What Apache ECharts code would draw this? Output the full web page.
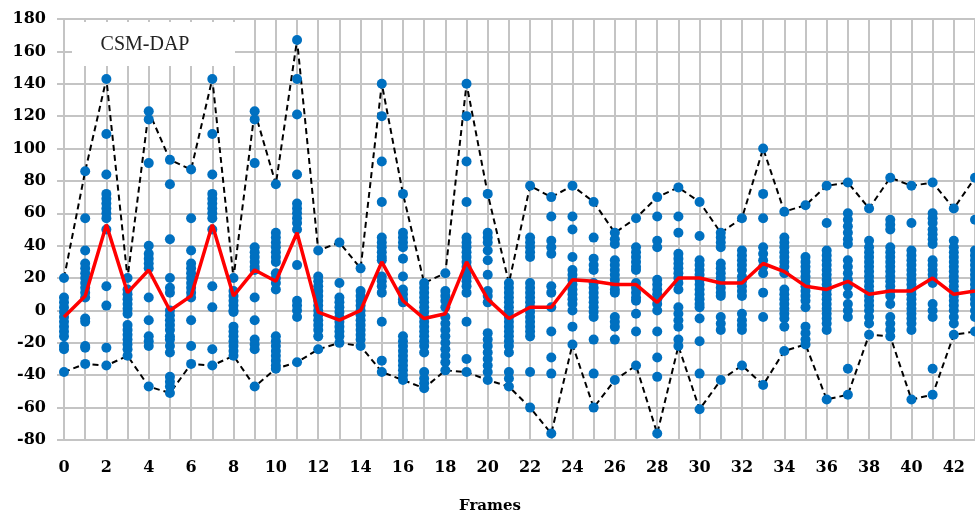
<!DOCTYPE html>
<html>
<head>
<meta charset="utf-8">
<script src="https://cdn.jsdelivr.net/npm/echarts@6/dist/echarts.min.js"></script>
<style>html,body{margin:0;padding:0;background:#fff}#chart{width:975px;height:515px}</style>
</head>
<body>
<div id="chart"></div>
<script>
// Frame numbers (x axis)
const frames = [0,1,2,3,4,5,6,7,8,9,10,11,12,13,14,15,16,17,18,19,20,21,22,23,24,25,26,27,28,29,30,31,32,33,34,35,36,37,38,39,40,41,42,43];
// y tick labels
const yTicks = [-80,-60,-40,-20,0,20,40,60,80,100,120,140,160,180];
const legendLabel = 'CSM-DAP';
const xTitle = 'Frames';

// Mean value per frame (red line)
const meanValues = [-4,9,53,11,25,0,9,53,9,25,18,48,-1,-6,0,30,6,-5,-2,30,7,-5,2,2,19,18,16,16,5,20,20,17,17,29,24,15,13,18,10,12,12,20,10,12];
// Max value per frame (upper dashed line)
const maxValues = [20,86,143,20,123,93,87,143,20,123,78,167,37,42,26,140,72,17,23,140,72,17,77,70,77,67,48,57,70,76,67,48,57,100,61,65,77,79,63,82,77,79,63,82];
// Min value per frame (lower dashed line)
const minValues = [-38,-33,-34,-28,-47,-51,-33,-34,-28,-47,-36,-32,-24,-20,-22,-38,-43,-48,-37,-38,-43,-47,-60,-76,-21,-60,-43,-34,-76,-22,-61,-43,-34,-46,-25,-21,-55,-52,-15,-16,-55,-52,-15,-13];

// Individual sample values per frame (blue dots)
const f00 = [20,8,5,2,-1,-4,-7,-10,-13,-16,-22,-24,-38];
const f01 = [86,57,37,29,26,23,20,17,14,11,8,-5,-7,-22,-23,-33];
const f02 = [143,109,84,72,69,66,63,60,57,50,15,3,-23,-34];
const f03 = [20,13,10,7,4,1,-2,-9,-12,-15,-18,-21,-24,-28];
const f04 = [123,118,91,40,35,32,29,26,8,-6,-16,-19,-22,-47];
const f05 = [93,78,44,20,14,11,0,-3,-6,-9,-12,-16,-18,-22,-26,-41,-44,-47,-51];
const f06 = [87,57,37,29,26,23,20,17,14,11,8,-6,-22,-33];
const f07 = [143,109,84,72,69,66,63,60,57,50,15,2,-24,-34];
const f08 = [20,12,9,6,3,0,-1,-10,-13,-16,-19,-22,-25,-28];
const f09 = [123,118,91,39,36,33,30,27,25,8,-6,-18,-21,-24,-47];
const f10 = [78,48,45,42,39,36,33,30,23,20,17,13,-16,-19,-22,-25,-28,-31,-34,-36];
const f11 = [167,143,121,84,66,63,60,57,54,50,28,6,3,0,-4,-32];
const f12 = [37,21,18,15,12,9,6,3,0,-3,-6,-9,-12,-16,-24];
const f13 = [42,17,8,5,2,-1,-4,-7,-10,-13,-16,-20];
const f14 = [26,12,9,6,3,0,-3,-6,-9,-12,-15,-18,-22];
const f15 = [140,120,92,67,45,42,39,36,33,31,21,18,15,11,-7,-31,-38];
const f16 = [72,48,45,42,39,32,21,13,10,7,5,-16,-19,-22,-25,-28,-31,-34,-37,-40,-43];
const f17 = [17,14,11,8,5,2,-1,-4,-7,-10,-13,-16,-19,-22,-26,-38,-42,-45,-48];
const f18 = [23,12,9,6,2,-4,-8,-12,-16,-20,-24,-28,-32,-37];
const f19 = [140,120,92,67,45,42,39,36,33,30,27,24,21,18,15,11,-7,-30,-38];
const f20 = [72,48,45,42,37,31,22,12,9,5,-14,-18,-22,-26,-30,-34,-38,-43];
const f21 = [17,14,11,8,5,2,-1,-4,-7,-10,-13,-16,-19,-22,-26,-38,-42,-47];
const f22 = [77,45,42,39,36,33,17,14,11,8,5,2,-1,-4,-7,-10,-13,-16,-38,-60];
const f23 = [70,58,43,39,35,15,11,2,-13,-29,-39,-76];
const f24 = [77,58,50,33,25,22,19,16,13,10,7,4,0,-10,-21];
const f25 = [67,45,32,28,25,17,14,11,8,5,2,-1,-4,-18,-39,-60];
const f26 = [48,44,41,31,28,25,22,19,16,13,11,-4,-7,-10,-18,-43];
const f27 = [57,39,36,33,30,27,25,17,14,11,8,6,-2,-13,-34];
const f28 = [70,58,43,39,19,16,13,10,7,4,0,-13,-29,-41,-76];
const f29 = [76,58,48,35,32,29,26,23,20,17,13,2,-2,-6,-10,-18,-22];
const f30 = [67,46,31,28,25,22,19,16,13,10,7,4,2,-5,-19,-39,-61];
const f31 = [48,45,42,39,29,26,23,20,17,14,11,9,-4,-8,-12,-43];
const f32 = [57,37,34,31,28,25,21,18,15,12,9,-2,-6,-9,-12,-34];
const f33 = [100,72,57,39,35,31,27,23,11,-4,-46];
const f34 = [61,45,42,39,36,33,30,27,23,13,10,7,4,1,-2,-5,-10,-25];
const f35 = [65,33,30,27,24,21,18,15,12,9,6,2,-10,-14,-18,-21];
const f36 = [77,54,37,34,31,28,25,22,19,16,13,10,7,4,1,-2,-5,-8,-12,-55];
const f37 = [79,60,56,52,48,44,41,31,27,23,19,15,10,4,0,-4,-36,-52];
const f38 = [63,43,39,36,33,30,27,24,21,18,15,12,9,6,3,0,-4,-8,-15];
const f39 = [82,56,53,50,39,36,33,30,27,24,21,18,15,12,9,4,-4,-8,-12,-16];
const f40 = [77,54,37,34,31,28,25,22,19,16,13,10,7,4,1,-2,-5,-8,-12,-55];
const f41 = [79,60,57,54,50,47,44,41,31,28,25,22,19,17,4,0,-4,-36,-52];
const f42 = [63,43,39,36,33,30,27,24,21,18,15,12,9,6,3,0,-4,-8,-15];
const f43 = [82,56,37,34,31,28,25,22,19,16,13,10,7,4,0,-4,-13];
const samples = [f00,f01,f02,f03,f04,f05,f06,f07,f08,f09,f10,f11,f12,f13,f14,f15,f16,f17,f18,f19,f20,f21,f22,f23,f24,f25,f26,f27,f28,f29,f30,f31,f32,f33,f34,f35,f36,f37,f38,f39,f40,f41,f42,f43];

const scatterData = [];
samples.forEach((arr, i) => arr.forEach(v => scatterData.push([frames[i], v])));
const meanData = frames.map((f, i) => [f, meanValues[i]]);
const maxData = frames.map((f, i) => [f, maxValues[i]]);
const minData = frames.map((f, i) => [f, minValues[i]]);

const gridColor = '#C4C4C4';
const labelFont = {fontFamily: 'DejaVu Serif', fontWeight: 'bold', fontSize: 16, color: '#000'};

const chart = echarts.init(document.getElementById('chart'), null, {renderer: 'canvas'});
chart.setOption({
  animation: false,
  backgroundColor: '#fff',
  grid: {left: 64, top: 19, bottom: 75, right: 0, containLabel: false},
  xAxis: {
    type: 'value', min: 0, max: 43, interval: 1,
    axisLine: {show: true, lineStyle: {color: gridColor, width: 2}},
    axisTick: {show: false},
    splitLine: {show: true, lineStyle: {color: gridColor, width: 2}},
    axisLabel: Object.assign({margin: 20, showMaxLabel: false, formatter: v => (v % 2 === 0 ? String(v) : '')}, labelFont)
  },
  yAxis: {
    type: 'value', min: yTicks[0], max: yTicks[yTicks.length - 1], interval: 20,
    axisLine: {show: true, lineStyle: {color: gridColor, width: 2}},
    axisTick: {show: true, length: 7, lineStyle: {color: gridColor, width: 2}},
    splitLine: {show: true, lineStyle: {color: gridColor, width: 2}},
    axisLabel: Object.assign({margin: 18}, labelFont)
  },
  graphic: [
    {type: 'rect', shape: {x: 72, y: 22, width: 163, height: 44}, style: {fill: '#fff'}, z: 100},
    {type: 'text', x: 145, y: 45, z: 101, style: {text: legendLabel, font: '20px "Liberation Serif"', fill: '#222', textAlign: 'center', textVerticalAlign: 'middle'}},
    {type: 'text', x: 490, y: 506, z: 101, style: {text: xTitle, font: 'bold 15px "DejaVu Serif"', fill: '#000', textAlign: 'center', textVerticalAlign: 'middle'}}
  ],
  series: [
    {type: 'line', data: maxData, symbol: 'none', lineStyle: {color: '#000', width: 2, type: [6, 4]}, z: 2},
    {type: 'line', data: minData, symbol: 'none', lineStyle: {color: '#000', width: 2, type: [6, 4]}, z: 2},
    {type: 'scatter', data: scatterData, symbol: 'circle', symbolSize: 10, clip: false, itemStyle: {color: '#0070C0', opacity: 1, borderWidth: 0}, z: 3},
    {type: 'line', data: meanData, symbol: 'none', lineStyle: {color: '#FF0000', width: 3.5}, z: 4}
  ]
});
</script>
</body>
</html>
